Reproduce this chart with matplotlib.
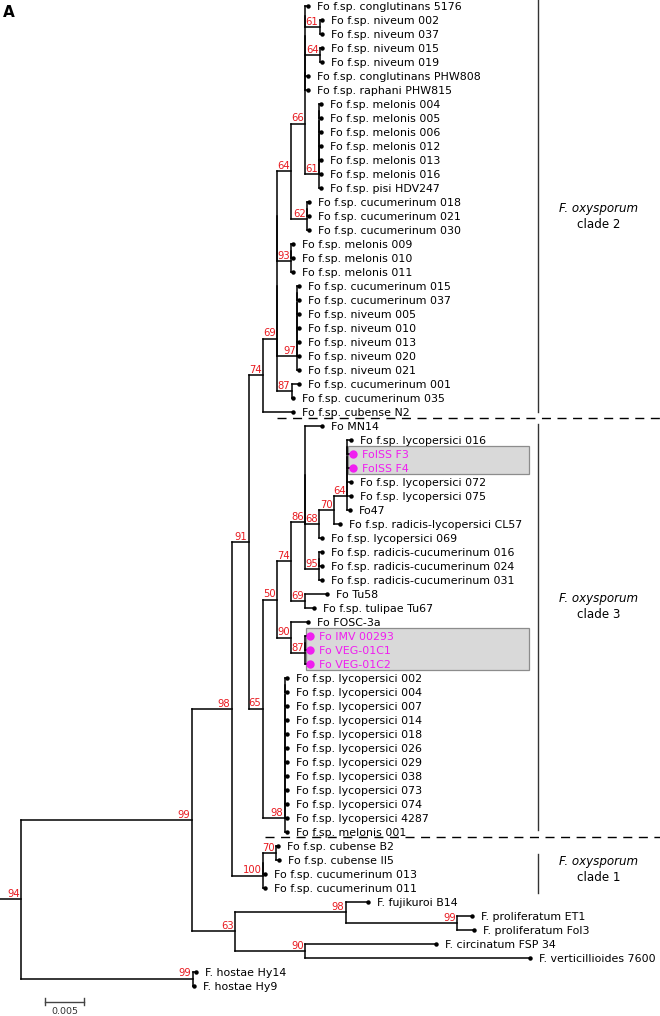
import matplotlib
matplotlib.use('Agg')
import matplotlib.pyplot as plt
from matplotlib.collections import LineCollection
from matplotlib.patches import Rectangle

plt.rcParams['font.family'] = ['DejaVu Sans']

# tip labels, top to bottom
leaf_names = [
    'Fo f.sp. conglutinans 5176',
    'Fo f.sp. niveum 002', 'Fo f.sp. niveum 037',
    'Fo f.sp. niveum 015', 'Fo f.sp. niveum 019',
    'Fo f.sp. conglutinans PHW808', 'Fo f.sp. raphani PHW815',
    'Fo f.sp. melonis 004', 'Fo f.sp. melonis 005', 'Fo f.sp. melonis 006',
    'Fo f.sp. melonis 012', 'Fo f.sp. melonis 013', 'Fo f.sp. melonis 016',
    'Fo f.sp. pisi HDV247',
    'Fo f.sp. cucumerinum 018', 'Fo f.sp. cucumerinum 021', 'Fo f.sp. cucumerinum 030',
    'Fo f.sp. melonis 009', 'Fo f.sp. melonis 010', 'Fo f.sp. melonis 011',
    'Fo f.sp. cucumerinum 015', 'Fo f.sp. cucumerinum 037',
    'Fo f.sp. niveum 005', 'Fo f.sp. niveum 010', 'Fo f.sp. niveum 013',
    'Fo f.sp. niveum 020', 'Fo f.sp. niveum 021',
    'Fo f.sp. cucumerinum 001', 'Fo f.sp. cucumerinum 035',
    'Fo f.sp. cubense N2',
    'Fo MN14',
    'Fo f.sp. lycopersici 016', 'FoISS F3', 'FoISS F4',
    'Fo f.sp. lycopersici 072', 'Fo f.sp. lycopersici 075', 'Fo47',
    'Fo f.sp. radicis-lycopersici CL57', 'Fo f.sp. lycopersici 069',
    'Fo f.sp. radicis-cucumerinum 016', 'Fo f.sp. radicis-cucumerinum 024',
    'Fo f.sp. radicis-cucumerinum 031',
    'Fo Tu58', 'Fo f.sp. tulipae Tu67',
    'Fo FOSC-3a', 'Fo IMV 00293', 'Fo VEG-01C1', 'Fo VEG-01C2',
    'Fo f.sp. lycopersici 002', 'Fo f.sp. lycopersici 004', 'Fo f.sp. lycopersici 007',
    'Fo f.sp. lycopersici 014', 'Fo f.sp. lycopersici 018', 'Fo f.sp. lycopersici 026',
    'Fo f.sp. lycopersici 029', 'Fo f.sp. lycopersici 038', 'Fo f.sp. lycopersici 073',
    'Fo f.sp. lycopersici 074', 'Fo f.sp. lycopersici 4287',
    'Fo f.sp. melonis 001',
    'Fo f.sp. cubense B2', 'Fo f.sp. cubense II5',
    'Fo f.sp. cucumerinum 013', 'Fo f.sp. cucumerinum 011',
    'F. fujikuroi B14', 'F. proliferatum ET1', 'F. proliferatum Fol3',
    'F. circinatum FSP 34', 'F. verticillioides 7600',
    'F. hostae Hy14', 'F. hostae Hy9',
]

# distance of each tip from the origin (x 0.001 substitutions/site)
tip_x = [
    39.5, 41.3, 41.3, 41.3, 41.3, 39.5, 39.5,
    41.2, 41.2, 41.2, 41.2, 41.2, 41.2, 41.2,
    39.6, 39.6, 39.6, 37.6, 37.6, 37.6,
    38.3, 38.3, 38.3, 38.3, 38.3, 38.3, 38.3,
    38.3, 37.6, 37.6,
    41.3, 45.0, 45.3, 45.3, 45.0, 45.0, 44.9, 43.6, 41.3,
    41.3, 41.3, 41.3, 41.9, 40.3,
    39.5, 39.7, 39.7, 39.7,
    36.8, 36.8, 36.8, 36.8, 36.8, 36.8, 36.8, 36.8, 36.8, 36.8, 36.8, 36.8,
    35.6, 35.8, 34.0, 34.0,
    47.2, 60.5, 60.8, 55.9, 67.9,
    25.1, 24.9,
]

highlight = [32, 33, 45, 46, 47]


def ladder(items, x, label=''):
    # polytomy drawn as nested zero-length nodes
    s = str(items[0])
    for t in items[1:-1]:
        s = '(%s,%s):%s' % (s, t, x)
    return '(%s,%s)%s:%s' % (s, items[-1], label, x)


# topology: tips are indices into leaf_names, internal nodes are bootstrap:x
melonis = ladder(list(range(7, 14)), 40.9, '61')
c66 = ladder([0, '(1,2)61:41.0', '(3,4)64:41.0', 5, 6, melonis], 39.1, '66')
c64 = '(' + c66 + ',' + ladder([14, 15, 16], 39.4, '62') + ')64:37.3'
c93 = ladder([17, 18, 19], 37.3, '93')
c97 = ladder(list(range(20, 27)), 38.1, '97')
c69 = ladder([c64, c93, c97, '(27,28)87:37.4'], 35.5, '69')
clade2 = '(' + c69 + ',29)74:33.7'

s64 = ladder(list(range(31, 37)), 44.5, '64')
c68 = '((' + s64 + ',37)70:42.8,38)68:40.9'
c86 = ladder([30, c68, ladder([39, 40, 41], 40.9, '95')], 39.1, '86')
c90 = '(44,' + ladder([45, 46, 47], 39.1, '87') + ')90:37.3'
c50 = '((' + c86 + ',(42,43)69:39.1)74:37.3,' + c90 + ')50:35.5'
lyco = ladder(list(range(48, 60)), 36.5, '98')
clade3 = '(' + c50 + ',' + lyco + ')65:33.7'
clade1 = ladder(['(60,61)70:35.4', 62, 63], 33.7, '100')

others = '((64,(65,66)99:58.6)98:44.3,(67,68)90:39.1)63:30.1'
tree = ('((((' + clade2 + ',' + clade3 + ')91:31.9,' + clade1 + ')98:29.7,'
        + others + ')99:24.6,(69,70)99:24.7)94:2.7;')

# layout constants (pixels of a 660 x 1016 canvas)
PX = 5.0 / 39.0          # tree units per pixel (scale bar 0.005 = 39 px)
ROW = 13.996             # pixels between tips
Y0 = 6.0                 # pixel row of the first tip
RED = '#e8191f'
MAGENTA = '#f01ef0'


def parse(s):
    pos = 0

    def node():
        nonlocal pos
        if s[pos] == '(':
            pos += 1
            kids = [node()]
            while s[pos] == ',':
                pos += 1
                kids.append(node())
            pos += 1
            start = pos
            while s[pos] not in ',);':
                pos += 1
            lab, x = s[start:pos].split(':')
            return {'kids': kids, 'label': lab, 'x': float(x)}
        start = pos
        while s[pos] not in ',);':
            pos += 1
        i = int(s[start:pos])
        return {'kids': [], 'leaf': i, 'x': tip_x[i]}

    return node()


def layout(n):
    if not n['kids']:
        n['y'] = n['leaf']
    else:
        for k in n['kids']:
            layout(k)
        n['y'] = (n['kids'][0]['y'] + n['kids'][-1]['y']) / 2


root = parse(tree)
layout(root)

fig = plt.figure(figsize=(6.6, 10.16), dpi=100)
ax = fig.add_axes([0, 0, 1, 1])
ax.set_xlim(0, 660 * PX)
ax.set_ylim((1016 - Y0) / ROW, -Y0 / ROW)
ax.axis('off')

# highlight boxes
for i0, i1, x0 in [(32, 33, 44.6), (45, 47, 39.2)]:
    ax.add_patch(Rectangle((x0, i0 - 0.56), 67.8 - x0, i1 - i0 + 1.0,
                           facecolor='#d9d9d9', edgecolor='#8c8c8c', lw=0.9, zorder=0))

segs = [[(0, root['y']), (root['x'], root['y'])]]
internal = []


def walk(n):
    if not n['kids']:
        return
    internal.append(n)
    segs.append([(n['x'], n['kids'][0]['y']), (n['x'], n['kids'][-1]['y'])])
    for k in n['kids']:
        segs.append([(n['x'], k['y']), (k['x'], k['y'])])
        walk(k)


walk(root)
ax.add_collection(LineCollection(segs, colors='black', linewidths=1.1, capstyle='projecting'))

# tips
for i, name in enumerate(leaf_names):
    hl = i in highlight
    ax.plot(tip_x[i], i, 'o', ms=6 if hl else 3.2, color=MAGENTA if hl else 'black',
            mec='none', zorder=3)
    ax.annotate(name, (tip_x[i], i), xytext=(6.5, 0), textcoords='offset points',
                ha='left', va='center_baseline', fontsize=7.9,
                color=MAGENTA if hl else 'black')

# bootstrap support
for n in internal:
    if n['label']:
        ax.annotate(n['label'], (n['x'], n['y']), xytext=(-1.0, 1.6),
                    textcoords='offset points', ha='right', va='baseline',
                    fontsize=7.2, color=RED)

# clade separators and bars
for y, x0 in [(29.45, 35.5), (59.4, 34.0)]:
    ax.plot([x0, 660 * PX], [y, y], color='black', lw=1.0, ls=(0, (6.5, 4.7)))

bar_x = 538 * PX
for y0, y1 in [(-0.43, 29.03), (29.9, 58.85), (60.56, 63.35)]:
    ax.plot([bar_x, bar_x], [y0, y1], color='#333333', lw=1.0)

clade_names = ['clade 2', 'clade 3', 'clade 1']
clade_mid = [14.93, 42.8, 61.6]
for name, ym in zip(clade_names, clade_mid):
    ax.text(599 * PX, ym - 0.57, 'F. oxysporum', style='italic', fontsize=8.6,
            ha='center', va='center_baseline')
    ax.text(599 * PX, ym + 0.57, name, fontsize=8.6, ha='center', va='center_baseline')

# scale bar
sb_y = 71.16
sb_x0 = 45 * PX
ax.plot([sb_x0, sb_x0 + 5.0], [sb_y, sb_y], color='#444444', lw=1.0)
for xe in (sb_x0, sb_x0 + 5.0):
    ax.plot([xe, xe], [sb_y - 0.27, sb_y + 0.22], color='#444444', lw=1.0)
ax.text(sb_x0 + 2.5, sb_y + 0.38, '0.005', fontsize=6.8, color='#333333',
        ha='center', va='top')

fig.text(0.004, 0.995, 'A', fontsize=11, fontweight='bold', ha='left', va='top')

fig.savefig('out.png', dpi=100)
